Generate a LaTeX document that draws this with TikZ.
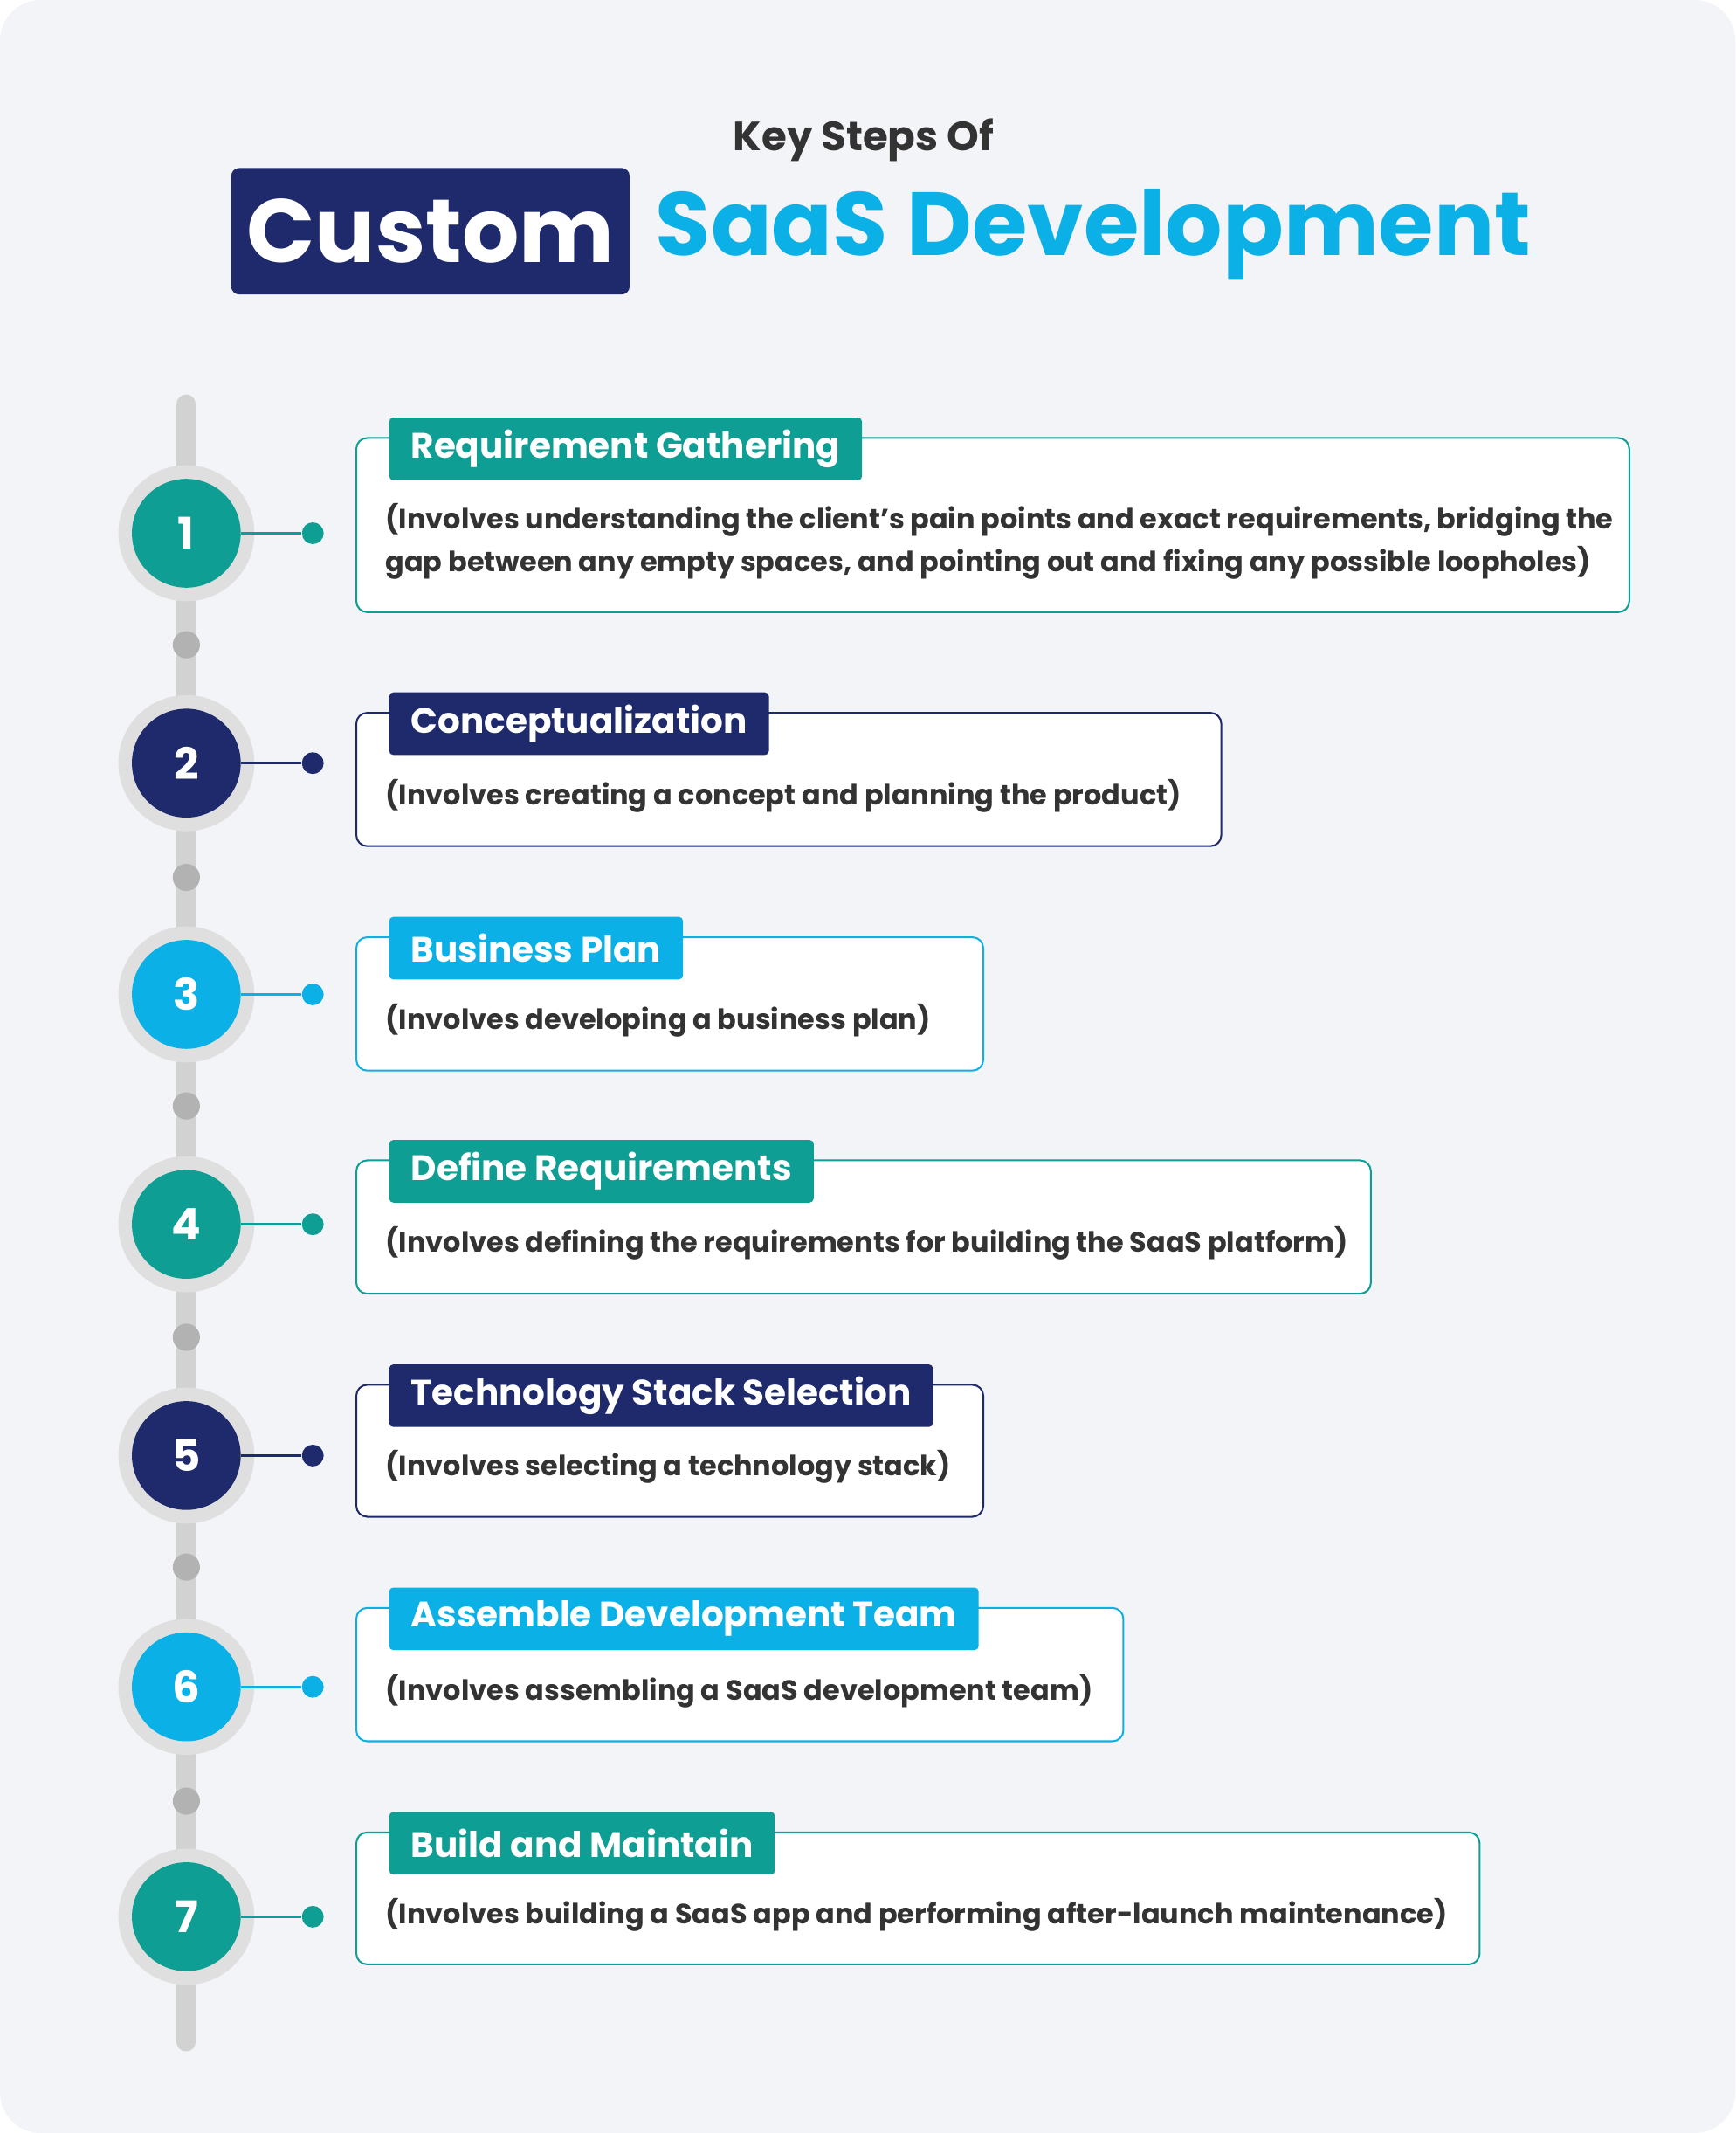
\documentclass[tikz,border=0pt]{standalone}
\usepackage{fontspec}
\setmainfont{Poppins}
\definecolor{teal}{HTML}{0E9E94}
\definecolor{navy}{HTML}{1E2A6B}
\definecolor{cyan}{HTML}{0BB0E6}
\definecolor{bg}{HTML}{F3F4F8}
\definecolor{txt}{HTML}{333333}
\begin{document}
\begin{tikzpicture}[x=1pt,y=-1pt,
  tab/.style={fill=#1,text=white,rounded corners=3pt,inner xsep=16pt,minimum height=46pt,anchor=west,font=\fontsize{26}{30}\selectfont\bfseries},
  body/.style={anchor=west,text=txt,font=\fontsize{20.5}{31}\selectfont\bfseries,align=left}]
\fill[bg,rounded corners=30pt] (0,0) rectangle (1276,1568);
\useasboundingbox (0,0) rectangle (1276,1568);
\node[text=txt,font=\fontsize{30}{34}\selectfont\bfseries] (k) at (635,103) {Key Steps Of};
\node[fill=navy,text=white,rounded corners=6pt,minimum width=293pt,minimum height=93pt,font=\fontsize{66}{70}\selectfont\bfseries] (c) at (316.5,170) {Custom};
\node[anchor=west,text=cyan,font=\fontsize{66}{70}\selectfont\bfseries,inner sep=0pt] (s) at (482,172) {SaaS Development};
\draw[line width=14pt,gray!35,line cap=round] (137,297) -- (137,1501);
\foreach \y in {474,645,813,983,1152,1324} \fill[gray!60] (137,\y) circle (10);
\foreach \n/\y/\c/\r/\t/\d in {
 1/392/teal/1198/Requirement Gathering/{(Involves understanding the client’s pain points and exact requirements, bridging the\\gap between any empty spaces, and pointing out and fixing any possible loopholes)},
 2/561/navy/898/Conceptualization/{(Involves creating a concept and planning the product)},
 3/731/cyan/723/Business Plan/{(Involves developing a business plan)},
 4/900/teal/1008/Define Requirements/{(Involves defining the requirements for building the SaaS platform)},
 5/1070/navy/723/Technology Stack Selection/{(Involves selecting a technology stack)},
 6/1240/cyan/826/Assemble Development Team/{(Involves assembling a SaaS development team)},
 7/1409/teal/1088/Build and Maintain/{(Involves building a SaaS app and performing after-launch maintenance)}}{
 \fill[gray!25] (137,\y) circle (50);
 \node[circle,fill=\c,minimum size=80pt,text=white,font=\fontsize{32}{34}\selectfont\bfseries] (n\n) at (137,\y) {\n};
 \node[circle,fill=\c,minimum size=16pt,inner sep=0pt] (d\n) at (230,\y) {};
 \draw[\c,line width=2pt] (n\n) -- (d\n);
}
\foreach \n/\t/\b/\c/\r/\tt/\d in {
 1/322/450/teal/1198/Requirement Gathering/{(Involves understanding the client’s pain points and exact requirements, bridging the\\gap between any empty spaces, and pointing out and fixing any possible loopholes)},
 2/524/622/navy/898/Conceptualization/{(Involves creating a concept and planning the product)},
 3/689/787/cyan/723/Business Plan/{(Involves developing a business plan)},
 4/853/951/teal/1008/Define Requirements/{(Involves defining the requirements for building the SaaS platform)},
 5/1018/1115/navy/723/Technology Stack Selection/{(Involves selecting a technology stack)},
 6/1182/1280/cyan/826/Assemble Development Team/{(Involves assembling a SaaS development team)},
 7/1347/1444/teal/1088/Build and Maintain/{(Involves building a SaaS app and performing after-launch maintenance)}}{
 \draw[\c,line width=1.3pt,fill=white,rounded corners=8pt] (262,\t) rectangle (\r,\b);
 \node[tab=\c] (t\n) at (286,\t+8) {\tt};
 \node[body] (b\n) at (280,{(\t+\b)/2+12}) {\d};
}
\end{tikzpicture}
\end{document}
